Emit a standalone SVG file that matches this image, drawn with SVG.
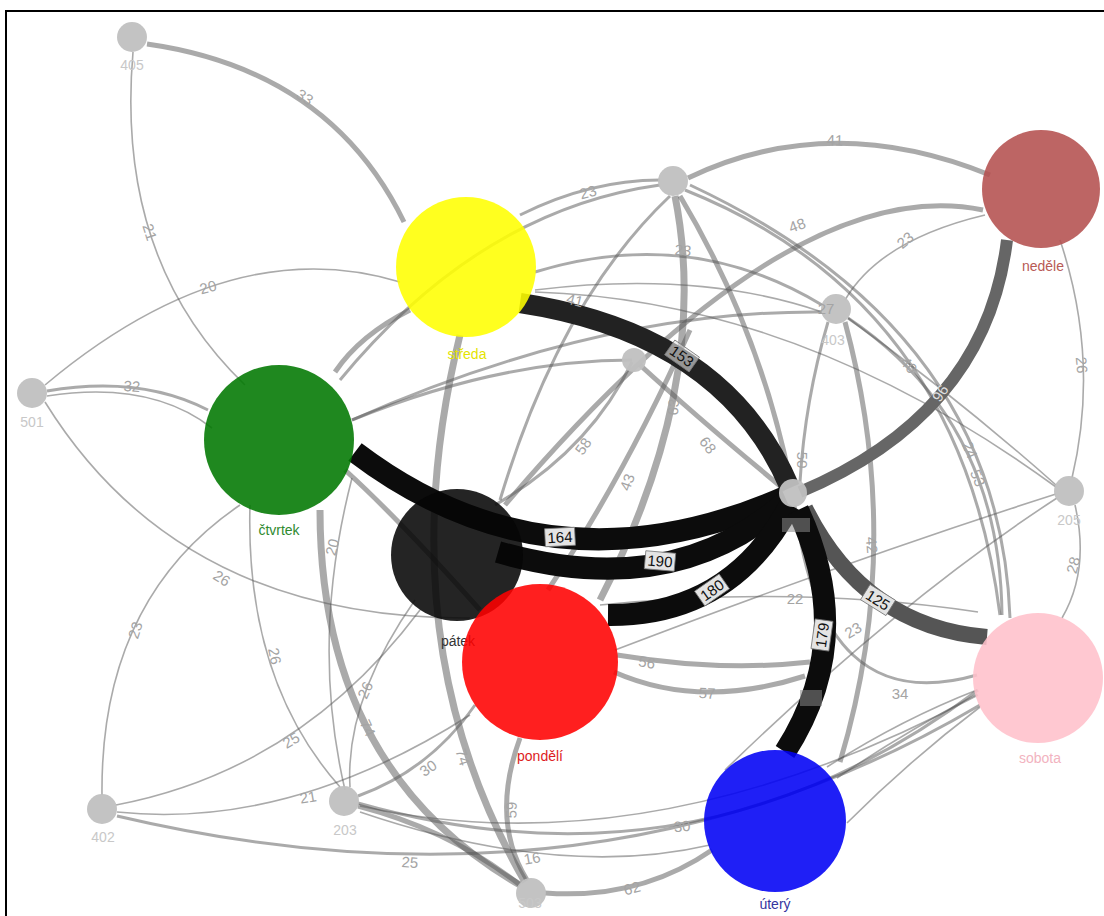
<svg xmlns="http://www.w3.org/2000/svg" width="1104" height="916" viewBox="0 0 1104 916">
<style>
.e{fill:none;stroke:#555;stroke-opacity:.5}
.s1{stroke-width:1.6}.s2{stroke-width:3}.s3{stroke-width:5}.s4{stroke-width:7}
.b{fill:none;stroke-linecap:butt}
.l{font-family:"Liberation Sans",Arial,sans-serif;font-size:15px;fill:#a4a4a4;text-anchor:middle;dominant-baseline:central}
.bl{font-family:"Liberation Sans",Arial,sans-serif;font-size:15px;fill:#111;text-anchor:middle;dominant-baseline:central}
.bx{fill:#e4e4e4;stroke:#777;stroke-width:.8}
.sn{fill:#c0c0c0;fill-opacity:.95}
.sl{font-family:"Liberation Sans",Arial,sans-serif;font-size:14px;fill:#c8c8c8;text-anchor:middle}
.nl{font-family:"Liberation Sans",Arial,sans-serif;font-size:14px;text-anchor:middle}
.big{fill-opacity:.88}
</style>
<rect width="1104" height="916" fill="#fff"/>
<path d="M6,916 V11 H1104" fill="none" stroke="#000" stroke-width="2"/>
<g id="connectors">
<path class="e s1" d="M133,52 Q115,260 245,385"/>
<path class="e s1" d="M45,385 Q230,230 400,282"/>
<path class="e s1" d="M47,396 Q150,380 212,428"/>
<path class="e s1" d="M45,402 Q180,620 470,618"/>
<path class="e s1" d="M102,795 Q100,600 240,505"/>
<path class="e s1" d="M116,805 Q300,770 420,610"/>
<path class="e s1" d="M117,812 Q290,830 470,715"/>
<path class="e s2" d="M117,816 Q600,930 980,705"/>
<path class="e s1" d="M250,505 Q245,680 340,787"/>
<path class="e s1" d="M350,787 Q345,700 415,600"/>
<path class="e s2" d="M358,796 Q430,770 475,705"/>
<path class="e s2" d="M358,803 Q700,900 978,690"/>
<path class="e s1" d="M360,806 Q650,870 978,695"/>
<path class="e s1" d="M360,812 Q560,880 710,845"/>
<path class="e s1" d="M352,478 Q310,640 345,790"/>
<path class="e s2" d="M340,380 Q480,210 660,185"/>
<path class="e s2" d="M520,215 Q590,180 660,180"/>
<path class="e s2" d="M535,272 Q690,225 822,305"/>
<path class="e s1" d="M535,290 Q700,270 822,312"/>
<path class="e s1" d="M535,292 Q800,300 1056,487"/>
<path class="e s2" d="M822,312 Q600,310 352,420"/>
<path class="e s1" d="M985,215 Q880,240 845,300"/>
<path class="e s2" d="M848,318 Q1000,420 1002,615"/>
<path class="e s2" d="M685,190 Q960,300 1000,615"/>
<path class="e s2" d="M690,185 Q1000,330 1010,618"/>
<path class="e s1" d="M1060,240 Q1100,360 1072,478"/>
<path class="e s1" d="M1075,505 Q1090,570 1062,618"/>
<path class="e s1" d="M848,318 Q960,400 1056,485"/>
<path class="e s1" d="M1056,494 Q850,560 615,650"/>
<path class="e s1" d="M1057,498 Q900,600 725,770"/>
<path class="e s1" d="M600,605 Q800,585 978,612"/>
<path class="e s2" d="M795,505 Q820,720 977,675"/>
<path class="e s1" d="M977,690 Q900,720 827,767"/>
<path class="e s1" d="M977,694 Q900,735 837,778"/>
<path class="e s1" d="M980,707 Q910,760 847,823"/>
<path class="e s3" d="M147,44 Q330,70 404,222"/>
<path class="e s2" d="M47,391 Q140,375 208,410"/>
<path class="e s4" d="M320,510 Q320,770 520,885"/>
<path class="e s4" d="M460,335 Q385,640 525,882"/>
<path class="e s3" d="M520,738 Q490,820 527,880"/>
<path class="e s3" d="M358,806 Q450,830 520,885"/>
<path class="e s3" d="M545,893 Q640,900 712,850"/>
<path class="e s2" d="M495,505 Q590,450 632,362"/>
<path class="e s3" d="M548,590 Q625,475 690,330"/>
<path class="e s4" d="M675,196 Q712,382 600,600"/>
<path class="e s3" d="M640,365 Q700,420 785,490"/>
<path class="e s2" d="M828,322 Q805,400 800,482"/>
<path class="e s3" d="M845,322 Q905,545 840,762"/>
<path class="e s3" d="M680,196 Q760,330 790,480"/>
<path class="e s3" d="M983,210 Q790,170 505,505"/>
<path class="e s3" d="M688,178 Q830,110 990,175"/>
<path class="e s3" d="M617,655 Q720,672 810,662"/>
<path class="e s3" d="M614,672 Q700,710 805,676"/>
<path class="e s3" d="M345,470 Q400,520 480,610"/>
<path class="e s2" d="M352,420 Q500,360 632,360"/>
<path class="e s3" d="M410,310 Q360,335 335,372"/>
<path class="e s2" d="M500,500 Q560,300 670,196"/>
<path class="b" stroke="#222" stroke-width="20" d="M520,303 Q725,334 790,488"/>
<path class="b" stroke="#666" stroke-width="12" d="M1007,240 Q986,414 800,492"/>
<path class="b" stroke="#555" stroke-width="16" d="M805,508 Q864,627 987,637"/>
<path class="b" stroke="#0c0c0c" stroke-width="22" d="M355,452 Q550,600 785,497"/>
<path class="b" stroke="#0c0c0c" stroke-width="22" d="M498,552 Q672,602 785,502"/>
<path class="b" stroke="#0c0c0c" stroke-width="22" d="M608,615 Q731,616 790,505"/>
<path class="b" stroke="#0c0c0c" stroke-width="22" d="M798,510 Q858,639 785,752"/>
<rect x="782" y="518" width="28" height="14" fill="#888" fill-opacity=".55"/>
<rect x="800" y="690" width="22" height="16" fill="#888" fill-opacity=".55"/>
</g>
<g id="n405"><circle class="sn" cx="132" cy="37" r="15"/><text class="sl" x="132" y="70">405</text></g>
<g id="n501"><circle class="sn" cx="32" cy="393" r="15"/><text class="sl" x="32" y="427">501</text></g>
<g id="n402"><circle class="sn" cx="102" cy="809" r="15"/><text class="sl" x="103" y="842">402</text></g>
<g id="n203"><circle class="sn" cx="344" cy="801" r="15"/><text class="sl" x="345" y="835">203</text></g>
<g id="n503"><circle class="sn" cx="531" cy="893" r="15"/><text class="sl" x="530" y="908">503</text></g>
<g id="n403"><circle class="sn" cx="836" cy="309" r="15"/><text class="sl" x="833" y="345">403</text></g>
<g id="n205"><circle class="sn" cx="1069" cy="491" r="15"/><text class="sl" x="1069" y="525">205</text></g>
<g id="nX"><circle class="sn" cx="673" cy="181" r="15"/></g>
<g id="nHub"><circle class="sn" cx="793" cy="493" r="14"/></g>
<g id="nMini"><circle class="sn" cx="634" cy="360" r="12" fill-opacity=".8"/></g>
<g id="streda"><circle class="big" cx="466" cy="267" r="70" fill="#ffff00"/><text class="nl" x="467" y="359" fill="#e4e400">středa</text></g>
<g id="nedele"><circle class="big" cx="1041" cy="189" r="59" fill="#b4504e"/><text class="nl" x="1043" y="271" fill="#b85a55">neděle</text></g>
<g id="ctvrtek"><circle class="big" cx="279" cy="440" r="75" fill="#007800"/><text class="nl" x="279" y="535" fill="#2f8a2f">čtvrtek</text></g>
<g id="patek"><circle class="big" cx="457" cy="555" r="66" fill="#060606"/><text class="nl" x="458" y="646" fill="#333">pátek</text></g>
<g id="pondeli"><circle class="big" cx="540" cy="662" r="78" fill="#ff0000"/><text class="nl" x="540" y="761" fill="#dd1c1c">pondělí</text></g>
<g id="utery"><circle class="big" cx="775" cy="821" r="71" fill="#0000f5"/><text class="nl" x="775" y="909" fill="#3535a0">úterý</text></g>
<g id="sobota"><circle class="big" cx="1038" cy="678" r="65" fill="#ffc0cb"/><text class="nl" x="1040" y="763" fill="#f2b3c0">sobota</text></g>
<g id="edge-labels">
<text class="l" transform="translate(305,97) rotate(33)">33</text>
<text class="l" transform="translate(150,232) rotate(72)">21</text>
<text class="l" transform="translate(208,287) rotate(-15)">20</text>
<text class="l" transform="translate(132,386) rotate(4)">32</text>
<text class="l" transform="translate(222,578) rotate(32)">26</text>
<text class="l" transform="translate(135,630) rotate(-72)">23</text>
<text class="l" transform="translate(291,740) rotate(-30)">25</text>
<text class="l" transform="translate(308,797) rotate(-10)">21</text>
<text class="l" transform="translate(410,862) rotate(4)">25</text>
<text class="l" transform="translate(275,656) rotate(78)">26</text>
<text class="l" transform="translate(365,690) rotate(-65)">26</text>
<text class="l" transform="translate(368,728) rotate(65)">74</text>
<text class="l" transform="translate(463,757) rotate(72)">74</text>
<text class="l" transform="translate(511,810) rotate(-88)">59</text>
<text class="l" transform="translate(428,768) rotate(-35)">30</text>
<text class="l" transform="translate(632,888) rotate(-15)">62</text>
<text class="l" transform="translate(682,826) rotate(-5)">30</text>
<text class="l" transform="translate(532,858) rotate(-10)">16</text>
<text class="l" transform="translate(583,446) rotate(-55)">58</text>
<text class="l" transform="translate(627,482) rotate(-70)">43</text>
<text class="l" transform="translate(673,407) rotate(-85)">63</text>
<text class="l" transform="translate(708,445) rotate(52)">68</text>
<text class="l" transform="translate(802,460) rotate(90)">50</text>
<text class="l" transform="translate(872,545) rotate(85)">42</text>
<text class="l" transform="translate(795,598)">22</text>
<text class="l" transform="translate(853,630) rotate(-30)">23</text>
<text class="l" transform="translate(900,693)">34</text>
<text class="l" transform="translate(647,662) rotate(10)">56</text>
<text class="l" transform="translate(707,693) rotate(3)">57</text>
<text class="l" transform="translate(909,365) rotate(50)">40</text>
<text class="l" transform="translate(970,450) rotate(68)">24</text>
<text class="l" transform="translate(978,478) rotate(68)">53</text>
<text class="l" transform="translate(905,240) rotate(-40)">23</text>
<text class="l" transform="translate(797,225) rotate(-20)">48</text>
<text class="l" transform="translate(835,140) rotate(2)">41</text>
<text class="l" transform="translate(588,192) rotate(-15)">23</text>
<text class="l" transform="translate(683,250) rotate(5)">23</text>
<text class="l" transform="translate(1073,565) rotate(-75)">28</text>
<text class="l" transform="translate(1082,365) rotate(85)">26</text>
<text class="l" transform="translate(332,547) rotate(-75)">20</text>
<text class="l" transform="translate(575,300) rotate(15)">41</text>
<text class="l" transform="translate(826,308)">27</text>
<text class="l" transform="translate(940,393) rotate(-55)" style="fill:#ddd">96</text>
<g transform="translate(560,537) rotate(-3)"><rect class="bx" x="-15" y="-9" width="30" height="18"/><text class="bl">164</text></g>
<g transform="translate(660,561) rotate(5)"><rect class="bx" x="-15" y="-9" width="30" height="18"/><text class="bl">190</text></g>
<g transform="translate(712,590) rotate(-35)"><rect class="bx" x="-15" y="-9" width="30" height="18"/><text class="bl">180</text></g>
<g transform="translate(822,635) rotate(-82)"><rect class="bx" x="-15" y="-9" width="30" height="18"/><text class="bl">179</text></g>
<g transform="translate(878,600) rotate(32)"><rect class="bx" x="-15" y="-9" width="30" height="18"/><text class="bl">125</text></g>
<g transform="translate(682,356) rotate(35)"><rect class="bx" x="-15" y="-9" width="30" height="18" fill-opacity=".6"/><text class="bl">153</text></g>
</g>
</svg>
